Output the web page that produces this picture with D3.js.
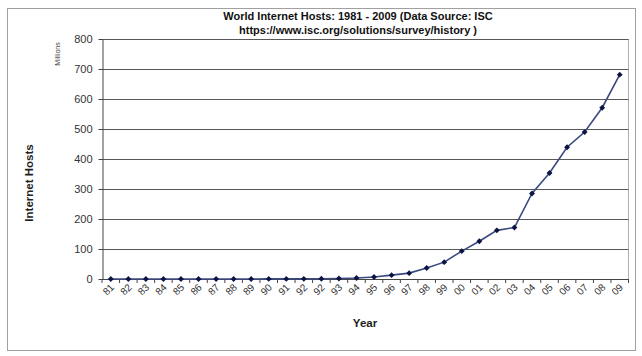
<!DOCTYPE html>
<html>
<head>
<meta charset="utf-8">
<script src="https://cdn.jsdelivr.net/npm/d3@7"></script>
<style>
  html, body { margin: 0; padding: 0; background: #ffffff; }
  svg { display: block; font-family: "Liberation Sans", Arial, sans-serif; }
</style>
</head>
<body>
<svg id="chart" width="642" height="356"></svg>
<script>
// ---- data ----
const yearLabels = ["81","82","83","84","85","86","87","88","89","90",
                    "91","92","92","93","94","95","96","97","98","99",
                    "00","01","02","03","04","05","06","07","08","09"];
const hostsMillions = [0.000213, 0.000235, 0.000562, 0.001024, 0.001961, 0.005089, 0.028174, 0.056, 0.159, 0.313,
                       0.376, 0.535, 0.992, 1.776, 3.212, 6.642, 12.881, 19.54, 36.739, 56.218,
                       93.047, 125.888, 162.128, 171.638, 285.139, 353.284, 439.286, 489.774, 570.937, 681.064];
const yTicks = [0, 100, 200, 300, 400, 500, 600, 700, 800];
const titleLines = ["World Internet Hosts: 1981 - 2009 (Data Source: ISC",
                    "https://www.isc.org/solutions/survey/history )"];

// ---- layout ----
const svg = d3.select("#chart");
const plot = { left: 102, right: 628.5, top: 39, bottom: 279 };

// outer frame
svg.append("rect")
  .attr("x", 7.5).attr("y", 8.5).attr("width", 628).attr("height", 342)
  .attr("fill", "#ffffff").attr("stroke", "#a0a0a0").attr("stroke-width", 1);

const x = d3.scaleBand().domain(d3.range(yearLabels.length))
  .range([plot.left, plot.right]).padding(0);
const y = d3.scaleLinear().domain([0, 800]).range([plot.bottom, plot.top]);

// plot area right border
svg.append("line")
  .attr("x1", plot.right).attr("x2", plot.right)
  .attr("y1", plot.top).attr("y2", plot.bottom)
  .attr("stroke", "#b0b0b0");

// gridlines
svg.append("g").selectAll("line").data(yTicks.filter(d => d > 0)).join("line")
  .attr("x1", plot.left).attr("x2", plot.right)
  .attr("y1", d => Math.round(y(d)) + 0.5).attr("y2", d => Math.round(y(d)) + 0.5)
  .attr("stroke", "#585858").attr("stroke-width", 1);

// y axis
const yAxis = svg.append("g")
  .attr("transform", `translate(${plot.left + 0.5},0)`)
  .call(d3.axisLeft(y).tickValues(yTicks).tickSize(4).tickPadding(6).tickSizeOuter(0));
yAxis.select(".domain").attr("stroke", "#444");
yAxis.selectAll(".tick line").attr("stroke", "#444");
yAxis.selectAll(".tick text").attr("font-size", 11).attr("fill", "#333")
  .attr("font-family", "Liberation Sans, Arial, sans-serif");

// x axis line
svg.append("line")
  .attr("x1", plot.left).attr("x2", plot.right)
  .attr("y1", plot.bottom + 0.5).attr("y2", plot.bottom + 0.5)
  .attr("stroke", "#444");
// x ticks at category boundaries
const bounds = d3.range(yearLabels.length + 1).map(i => i < yearLabels.length ? x(i) : x(i - 1) + x.bandwidth());
svg.append("g").selectAll("line").data(bounds).join("line")
  .attr("x1", d => d).attr("x2", d => d)
  .attr("y1", plot.bottom).attr("y2", plot.bottom + 4)
  .attr("stroke", "#444");

// x tick labels (rotated)
svg.append("g").selectAll("text").data(yearLabels).join("text")
  .attr("transform", (d, i) => `translate(${x(i) + x.bandwidth() / 2 + 4},${plot.bottom + 9}) rotate(-45)`)
  .attr("text-anchor", "end")
  .attr("font-size", 10).attr("fill", "#333")
  .text(d => d);

// series line
const line = d3.line()
  .x((d, i) => x(i) + x.bandwidth() / 2)
  .y(d => y(d));
svg.append("path")
  .datum(hostsMillions)
  .attr("d", line)
  .attr("fill", "none")
  .attr("stroke", "#3a4a80")
  .attr("stroke-width", 1.6);

// markers (diamonds)
svg.append("g").selectAll("path").data(hostsMillions).join("path")
  .attr("transform", (d, i) => `translate(${x(i) + x.bandwidth() / 2},${y(d)})`)
  .attr("d", d3.symbol(d3.symbolDiamond2, 22))
  .attr("fill", "#0b1445");

// title
svg.append("g").selectAll("text").data(titleLines).join("text")
  .attr("x", 358).attr("y", (d, i) => 20 + i * 14)
  .attr("text-anchor", "middle")
  .attr("font-size", 11).attr("font-weight", "bold").attr("fill", "#111")
  .text(d => d);

// axis titles
svg.append("text")
  .attr("transform", "translate(33,183) rotate(-90)")
  .attr("text-anchor", "middle")
  .attr("font-size", 11.5).attr("font-weight", "bold").attr("fill", "#222")
  .text("Internet Hosts");
svg.append("text")
  .attr("transform", "translate(60,54) rotate(-90)")
  .attr("text-anchor", "middle")
  .attr("font-size", 7).attr("fill", "#444")
  .text("Millions");
svg.append("text")
  .attr("x", 365).attr("y", 327)
  .attr("text-anchor", "middle")
  .attr("font-size", 11.5).attr("font-weight", "bold").attr("fill", "#222")
  .text("Year");
</script>
</body>
</html>
